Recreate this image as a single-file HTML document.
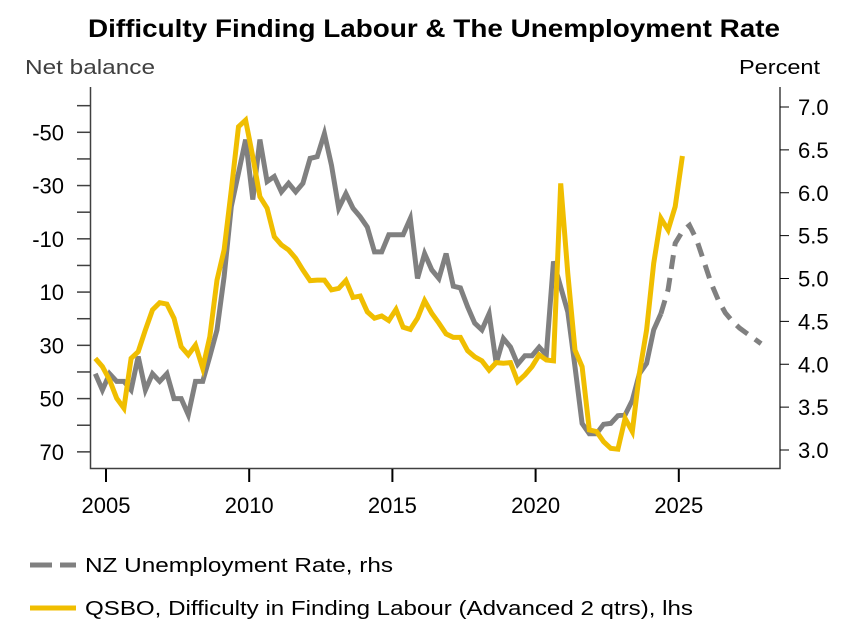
<!DOCTYPE html>
<html><head><meta charset="utf-8"><style>
body{margin:0;background:#fff;}
svg{display:block;font-family:"Liberation Sans",sans-serif;}
</style></head><body>
<svg id="chart" width="852" height="626" viewBox="0 0 852 626">
<text x="434" y="37" text-anchor="middle" font-size="25" font-weight="bold" fill="#000" textLength="692" lengthAdjust="spacingAndGlyphs">Difficulty Finding Labour &amp; The Unemployment Rate</text>
<text x="25" y="74" font-size="20" fill="#404040" textLength="130" lengthAdjust="spacingAndGlyphs">Net balance</text>
<text x="820" y="74" text-anchor="end" font-size="20" fill="#000" textLength="81" lengthAdjust="spacingAndGlyphs">Percent</text>
<g id="axes"></g>
<g id="series"></g>
<g>
<line x1="30" y1="565" x2="52" y2="565" stroke="#808080" stroke-width="5"/>
<line x1="60" y1="565" x2="76" y2="565" stroke="#808080" stroke-width="5"/>
<text x="85" y="572" font-size="20" fill="#000" textLength="308" lengthAdjust="spacingAndGlyphs">NZ Unemployment Rate, rhs</text>
<line x1="30" y1="608" x2="76" y2="608" stroke="#F0BE00" stroke-width="5"/>
<text x="85" y="615" font-size="20" fill="#000" textLength="608" lengthAdjust="spacingAndGlyphs">QSBO, Difficulty in Finding Labour (Advanced 2 qtrs), lhs</text>
</g>
</svg>
<script>
const xTicks = [2005, 2010, 2015, 2020, 2025];
const leftTicks = [-50, -30, -10, 10, 30, 50, 70];
const rightTicks = [7.0, 6.5, 6.0, 5.5, 5.0, 4.5, 4.0, 3.5, 3.0];
const startYear = 2004.625;
const unemployment = [3.89,3.70,3.89,3.80,3.80,3.70,4.09,3.70,3.89,3.80,3.89,3.60,3.60,3.41,3.80,3.80,4.09,4.40,5.02,5.84,6.23,6.62,5.92,6.62,6.13,6.19,6.01,6.11,6.01,6.11,6.40,6.42,6.69,6.32,5.82,5.99,5.82,5.72,5.60,5.31,5.31,5.51,
5.51,5.51,5.70,5.00,5.29,5.10,5.00,5.29,4.91,4.89,4.67,4.48,4.40,4.59,4.01,4.30,4.20,4.00,4.10,4.10,4.20,4.11,5.20,4.90,4.61,3.97,3.31,3.19,3.19,3.30,3.31,3.40,3.41,3.58,3.89,4.01,4.40,4.59];
const unemploymentForecast = [4.59,4.87,5.41,5.55,5.62,5.45,5.20,4.95,4.75,4.60,4.50,4.42,4.36,4.30,4.24];
const qsbo = [34.9,38.0,43.0,49.9,53.6,34.9,32.4,24.2,16.7,14.0,14.5,19.8,30.5,33.6,29.9,38.6,26.8,5.5,-5.8,-28.3,-52.1,-54.6,-40.8,-25.8,-21.5,-10.8,-7.7,-5.8,-2.7,1.7,5.7,5.5,5.5,9.2,8.6,5.7,12.0,11.5,17.4,19.8,19.0,20.7,
16.5,23.2,24.0,19.8,13.2,18.0,21.7,25.7,27.0,27.0,32.0,34.3,35.8,39.3,36.5,36.7,36.5,43.6,41.1,38.0,33.6,35.5,35.8,-30.8,3.0,31.8,38.0,61.8,62.4,66.2,68.7,69.0,57.4,62.4,40.5,24.2,-0.8,-17.7,-13.3,-22.1,-41.1];

const NS='http://www.w3.org/2000/svg';
const X = t => 106 + (t - 2005) * 28.64;
const YL = v => 132.3 + (v + 50) * 2.663;
const YR = r => 107 + (7 - r) * 85.75;
const axes = document.getElementById('axes');
const series = document.getElementById('series');
function mk(tag, attrs, parent){const e=document.createElementNS(NS,tag);for(const k in attrs)e.setAttribute(k,attrs[k]);parent.appendChild(e);return e;}

let a = mk('path',{d:'M90.5 87 V468.5 H780 V87',fill:'none',stroke:'#404040','stroke-width':1.5},axes);


for(let v=-60; v<=70; v+=10){
  const t=mk('line',{x1:77,x2:90.5,y1:YL(v),y2:YL(v),stroke:'#404040','stroke-width':1.5},axes);
  
  
}
leftTicks.forEach(v=>{
  const t=mk('text',{x:64,y:YL(v)+8,'text-anchor':'end','font-size':22,fill:'#000'},axes);
  t.textContent=v;
  
  
});
rightTicks.forEach(r=>{
  const l=mk('line',{x1:780,x2:789,y1:YR(r),y2:YR(r),stroke:'#000','stroke-width':1},axes);
  
  
  const t=mk('text',{x:798,y:YR(r)+8,'font-size':22,fill:'#000'},axes);
  t.textContent=r.toFixed(1);
  
  
});
xTicks.forEach(y=>{
  const l=mk('line',{x1:X(y),x2:X(y),y1:469,y2:482,stroke:'#000','stroke-width':2},axes);
  
  
  const t=mk('text',{x:X(y),y:513,'text-anchor':'middle','font-size':22,fill:'#000'},axes);
  t.textContent=y;
  
  
});
function pts(arr, y0, fy){return arr.map((v,i)=>X(y0+i*0.25).toFixed(1)+','+fy(v).toFixed(1)).join(' ');}
const fStart = startYear + (unemployment.length-1)*0.25;
let p=mk('polyline',{points:pts(unemploymentForecast,fStart,YR),fill:'none',stroke:'#808080','stroke-width':5,'stroke-dasharray':'14 9'},series);


p=mk('polyline',{points:pts(unemployment,startYear,YR),fill:'none',stroke:'#808080','stroke-width':5},series);


p=mk('polyline',{points:pts(qsbo,startYear,YL),fill:'none',stroke:'#F0BE00','stroke-width':5},series);


</script>
</body></html>
